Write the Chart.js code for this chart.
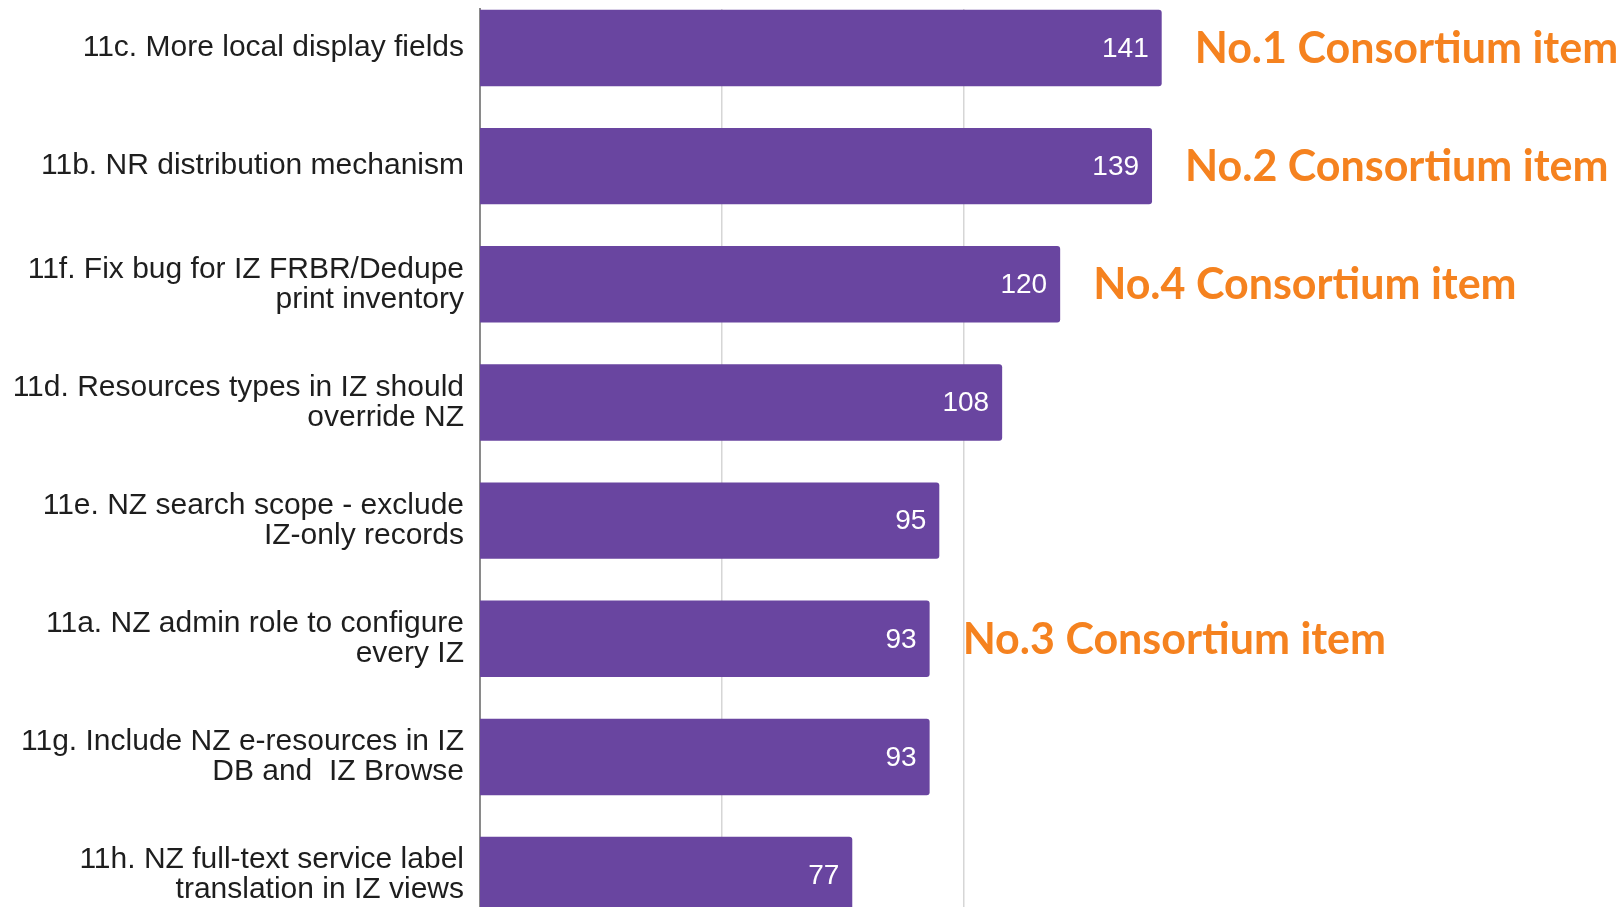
<!DOCTYPE html>
<html>
<head>
<meta charset="utf-8">
<script src="https://cdn.jsdelivr.net/npm/chart.js@4.4.1/dist/chart.umd.min.js"></script>
<style>
    html, body { margin: 0; padding: 0; background: #fff; overflow: hidden; }
    #wrap { position: absolute; left: 0; top: 0; width: 1621px; height: 907px; }
</style>
</head>
<body>
<div id="wrap"><canvas id="grafico"></canvas></div>
<script>
// Dados
const categorias = [
    ['11c. More local display fields'],
    ['11b. NR distribution mechanism'],
    ['11f. Fix bug for IZ FRBR/Dedupe', 'print inventory'],
    ['11d. Resources types in IZ should', 'override NZ'],
    ['11e. NZ search scope - exclude', 'IZ-only records'],
    ['11a. NZ admin role to configure', 'every IZ'],
    ['11g. Include NZ e-resources in IZ', 'DB and  IZ Browse'],
    ['11h. NZ full-text service label', 'translation in IZ views']
];
const valores = [141, 139, 120, 108, 95, 93, 93, 77];
const destaques = ['No.1 Consortium item', 'No.2 Consortium item', 'No.4 Consortium item', '', '', 'No.3 Consortium item', '', ''];
const ticksX = [50, 100];

const corBarra = '#6945a0';
const corDestaque = '#f5821f';

Chart.defaults.font.family = '"Liberation Sans", Arial, sans-serif';

// Escreve o valor dentro da barra e o destaque laranja ao lado
const rotulosPlugin = {
    id: 'rotulos',
    afterDatasetsDraw(chart) {
        const ctx = chart.ctx;
        const meta = chart.getDatasetMeta(0);
        ctx.save();
        ctx.textBaseline = 'middle';
        meta.data.forEach((bar, i) => {
            ctx.fillStyle = '#ffffff';
            ctx.textAlign = 'right';
            ctx.font = '28px "Liberation Sans", Arial, sans-serif';
            ctx.fillText(String(valores[i]), bar.x - 13, bar.y + 1);
            if (destaques[i]) {
                ctx.fillStyle = corDestaque;
                ctx.textAlign = 'left';
                ctx.font = 'bold 43px Lato, "Open Sans", sans-serif';
                ctx.fillText(destaques[i], bar.x + 33, bar.y + 1);
            }
        });
        ctx.restore();
    }
};

const ctx = document.getElementById('grafico').getContext('2d');
const grafico = new Chart(ctx, {
    type: 'bar',
    data: {
        datasets: [{
            data: valores.map((v, i) => ({ x: v, y: i })),
            backgroundColor: corBarra,
            borderRadius: 3,
            borderSkipped: 'start',
            categoryPercentage: 1,
            barPercentage: 0.647
        }]
    },
    options: {
        indexAxis: 'y',
        responsive: true,
        maintainAspectRatio: false,
        animation: false,
        layout: { padding: { top: 9, right: 0, bottom: 0, left: 0 } },
        plugins: {
            legend: { display: false },
            tooltip: { enabled: false }
        },
        scales: {
            x: {
                type: 'linear',
                min: 0,
                max: 236,
                afterBuildTicks: axis => { axis.ticks = ticksX.map(v => ({ value: v })); },
                afterFit: axis => { axis.height = 0; axis.paddingLeft = 0; axis.paddingRight = 0; },
                ticks: { display: false },
                border: { display: false },
                grid: { color: '#d6d6d6', lineWidth: 1.5, drawTicks: false }
            },
            y: {
                type: 'linear',
                reverse: true,
                offset: false,
                min: -0.33,
                max: 7.27,
                afterBuildTicks: axis => { axis.ticks = categorias.map((c, i) => ({ value: i })); },
                afterFit: axis => { axis.width = 480; axis.paddingTop = 0; axis.paddingBottom = 0; },
                ticks: {
                    autoSkip: false,
                    padding: 16,
                    color: '#1e1e1e',
                    font: { size: 30, lineHeight: 1.0 },
                    callback: v => categorias[v]
                },
                border: { display: true, color: '#8a8a8a', width: 2 },
                grid: { display: false, drawTicks: false }
            }
        }
    },
    plugins: [rotulosPlugin]
});
</script>
</body>
</html>
